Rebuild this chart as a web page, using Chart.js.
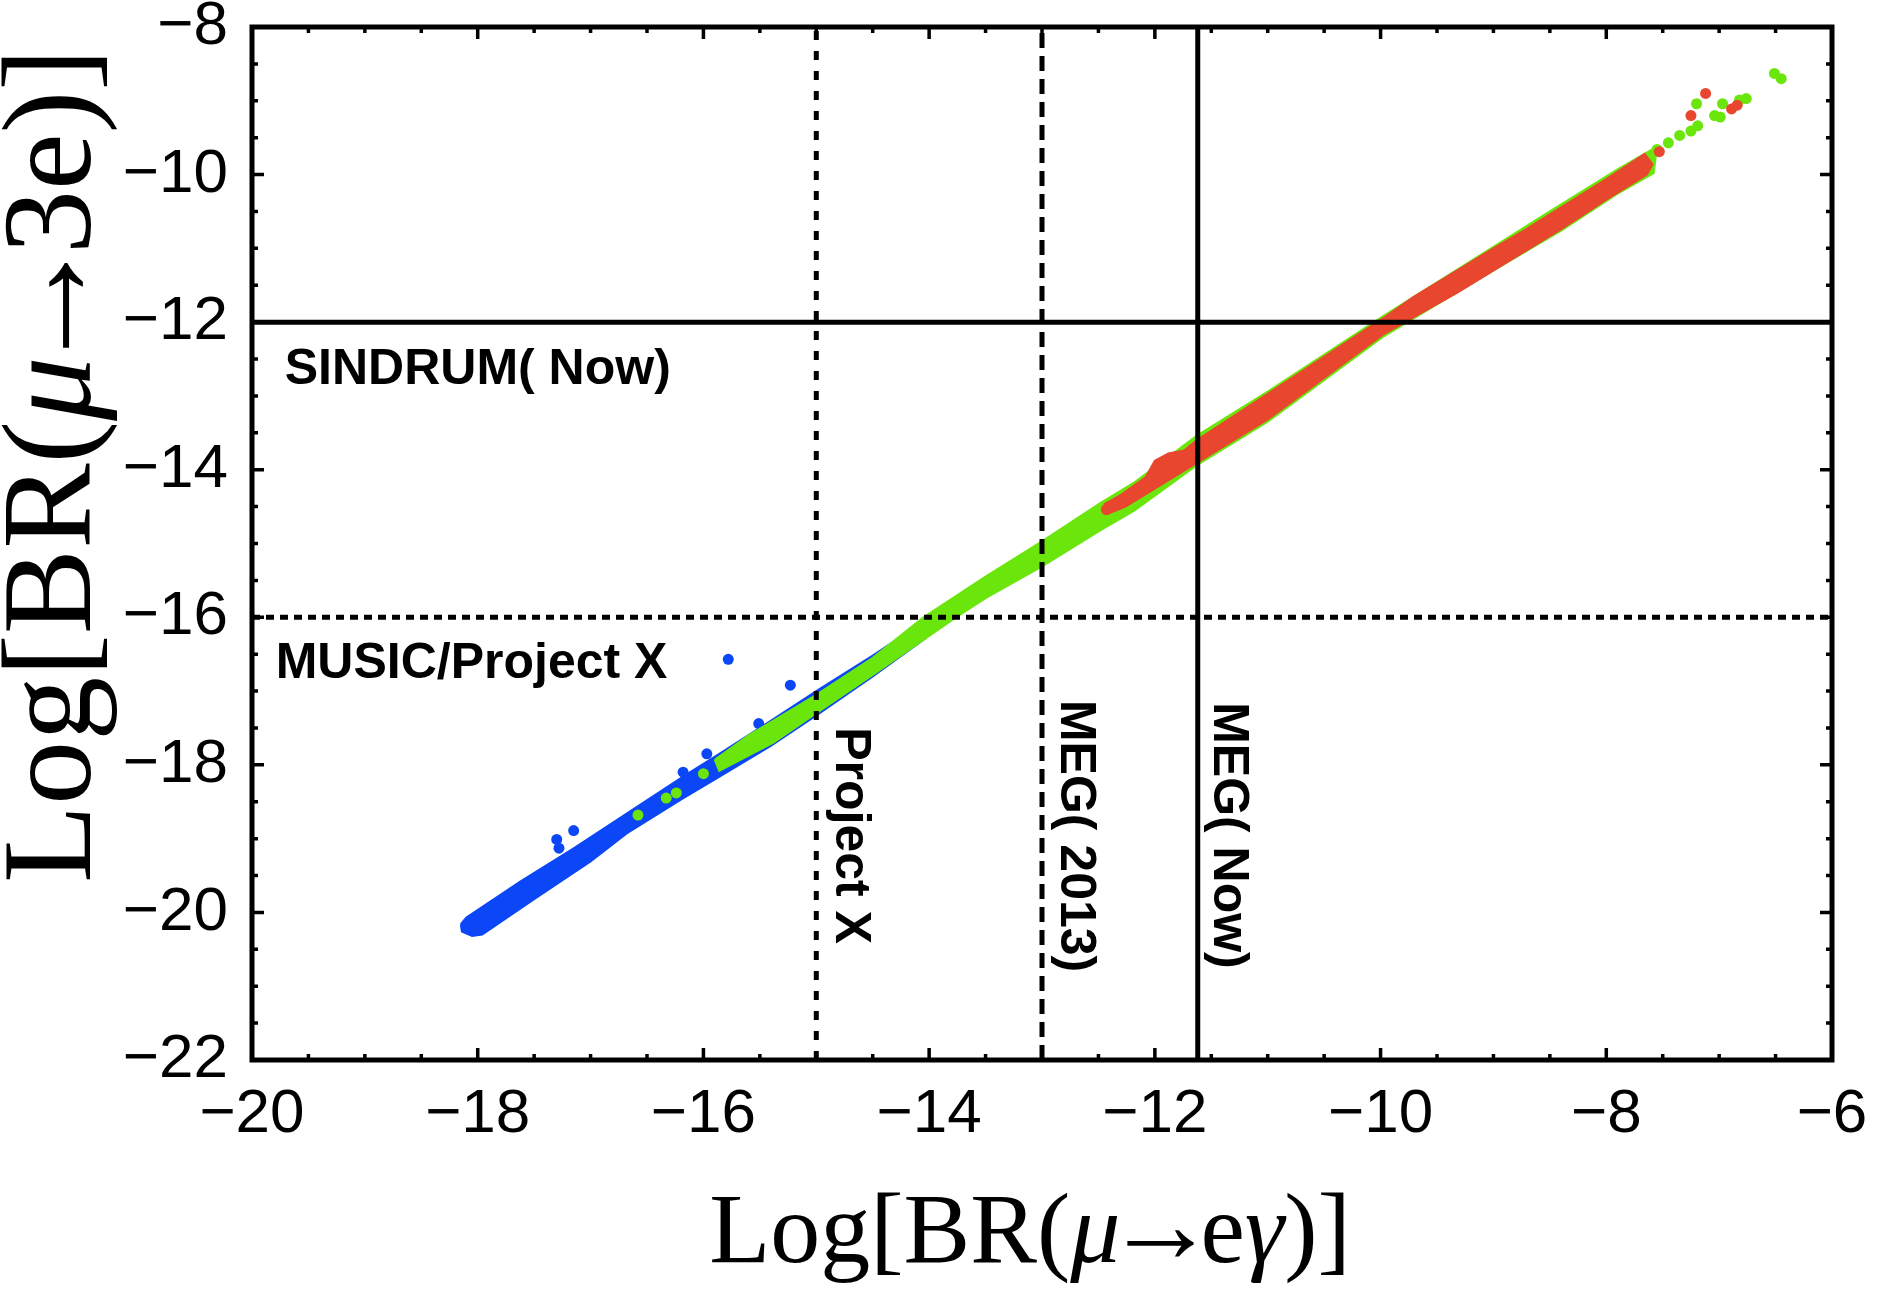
<!DOCTYPE html>
<html>
<head>
<meta charset="utf-8">
<script src="https://cdn.jsdelivr.net/npm/chart.js@4.4.1/dist/chart.umd.min.js"></script>
<style>
  html, body { margin: 0; padding: 0; background: #fff; }
  #wrap { width: 1884px; height: 1290px; }
</style>
</head>
<body>
<div id="wrap"><canvas id="brChart" width="1884" height="1290"></canvas></div>
<script>
// log10 of the branching ratios, tick labels on both axes
const xTicks = [-20, -18, -16, -14, -12, -10, -8, -6];
const yTicks = [-22, -20, -18, -16, -14, -12, -10, -8];

// experimental limits on mu -> e gamma (vertical) and mu -> 3e (horizontal)
const megNames = ['Project X', 'MEG( 2013)', 'MEG( Now)'];
const megLimits = [-15, -13, -11.62];
const threeENames = ['SINDRUM( Now)', 'MUSIC/Project X'];
const threeELimits = [-12, -16];

// dense scan regions, given as upper and lower edge of each band
const blueUpper = [[-18.15, -20.16], [-18.10, -20.07], [-17.62, -19.58], [-17.15, -19.13], [-16.65, -18.63],
  [-16.18, -18.16], [-15.88, -17.87], [-15.40, -17.40], [-15.00, -17.00], [-14.50, -16.52], [-14.02, -16.03]];
const blueLower = [[-18.14, -20.26], [-18.05, -20.32], [-17.96, -20.30], [-17.50, -19.82], [-17.00, -19.31],
  [-16.68, -18.93], [-16.20, -18.47], [-15.88, -18.18], [-15.40, -17.74], [-15.00, -17.33], [-14.50, -16.80],
  [-14.02, -16.27]];

const greenUpper = [[-15.90, -17.93], [-15.60, -17.60], [-15.38, -17.40], [-15.00, -17.05], [-14.50, -16.55],
  [-14.05, -16.00], [-13.50, -15.45], [-13.00, -14.97], [-12.48, -14.45], [-12.18, -14.17],
  [-11.63, -13.54], [-11.00, -12.94], [-9.98, -11.92], [-9.00, -10.98], [-8.50, -10.50], [-7.90, -9.93], [-7.55, -9.62]];
const greenLower = [[-15.86, -18.08], [-15.38, -17.70], [-15.00, -17.30], [-14.50, -16.78], [-13.76, -16.00],
  [-13.50, -15.74], [-13.00, -15.31], [-12.48, -14.82], [-12.18, -14.55], [-11.61, -13.92], [-11.00, -13.35],
  [-9.98, -12.20], [-9.00, -11.30], [-8.40, -10.76], [-7.90, -10.26], [-7.58, -9.98]];

const redUpper = [[-12.45, -14.47], [-12.30, -14.34], [-12.08, -14.10], [-12.00, -13.88], [-11.88, -13.78],
  [-11.74, -13.74], [-11.63, -13.60], [-11.00, -12.97], [-9.98, -11.95], [-9.71, -11.66], [-9.00, -11.00],
  [-8.73, -10.76], [-8.50, -10.54], [-8.00, -10.06], [-7.66, -9.72]];
const redLower = [[-12.42, -14.60], [-12.26, -14.50], [-11.61, -13.89], [-11.00, -13.32], [-9.98, -12.17],
  [-9.32, -11.60], [-8.40, -10.74], [-8.00, -10.34], [-7.64, -10.00], [-7.59, -9.86]];

// isolated scan points off the bands
const blueDots = [[-17.30, -19.01], [-17.15, -18.89], [-17.28, -19.13], [-16.18, -18.10], [-15.97, -17.85],
  [-15.51, -17.44], [-15.78, -16.57], [-15.23, -16.92]];
const greenDots = [[-16.58, -18.68], [-16.33, -18.45], [-16.24, -18.38], [-16.00, -18.12], [-7.55, -9.66],
  [-7.45, -9.57], [-7.35, -9.47], [-7.25, -9.41], [-7.19, -9.34], [-7.20, -9.04], [-7.04, -9.20], [-6.99, -9.22],
  [-6.97, -9.04], [-6.82, -8.99], [-6.76, -8.97], [-6.51, -8.63], [-6.45, -8.70]];
const redDots = [[-12.43, -14.54], [-7.53, -9.69], [-7.25, -9.20], [-7.12, -8.90], [-6.89, -9.11], [-6.84, -9.06]];

const BLUE = '#0b47f6';
const GREEN = '#6be60d';
const RED = '#e8462e';
const SANS = '"Liberation Sans", Arial, sans-serif';
const SERIF = '"Liberation Serif", "Times New Roman", serif';

const xMin = xTicks[0], xMax = xTicks[xTicks.length - 1];
const yMin = yTicks[0], yMax = yTicks[yTicks.length - 1];

const toPts = pts => pts.map(([x, y]) => ({ x, y }));
// closed outline: along the upper edge, back along the lower one
const outline = (upper, lower) => toPts(upper.concat(lower.slice().reverse(), [upper[0]]));
const fmt = v => (v < 0 ? '\u2212' : '') + Math.abs(v);

const bandSet = (upper, lower, color, order) => ({
  type: 'line', data: outline(upper, lower), fill: 'shape', backgroundColor: color,
  borderColor: color, borderWidth: 2, pointRadius: 0, tension: 0, order
});
const dotSet = (pts, color, order) => ({
  type: 'scatter', data: toPts(pts), backgroundColor: color, pointRadius: 5.5,
  pointBorderWidth: 0, order
});

const megDash = [[9, 11], [15, 8], []];
const threeEDash = [[], [8, 6]];
const limitSets = [];
megLimits.forEach((v, i) => limitSets.push({
  type: 'line', data: [{ x: v, y: yMin }, { x: v, y: yMax }], borderColor: '#000', borderWidth: 5,
  borderDash: megDash[i], pointRadius: 0, fill: false, order: 0
}));
threeELimits.forEach((v, i) => limitSets.push({
  type: 'line', data: [{ x: xMin, y: v }, { x: xMax, y: v }], borderColor: '#000', borderWidth: 5,
  borderDash: threeEDash[i], pointRadius: 0, fill: false, order: 0
}));

const datasets = [
  ...limitSets,
  dotSet(redDots, RED, 1),
  bandSet(redUpper, redLower, RED, 2),
  dotSet(greenDots, GREEN, 3),
  bandSet(greenUpper, greenLower, GREEN, 4),
  dotSet(blueDots, BLUE, 5),
  bandSet(blueUpper, blueLower, BLUE, 6)
];

// title pieces: [text, style, size factor, side trim in em]
function drawTitle(ctx, runs, size, cx, cy, angle) {
  const fontOf = (style, k) => `${style} ${size * k}px ${SERIF}`;
  const advance = ([txt, style, k = 1, trim = 0]) => {
    ctx.font = fontOf(style, k);
    return ctx.measureText(txt).width - 2 * trim * size;
  };
  const total = runs.reduce((s, r) => s + advance(r), 0);
  ctx.save();
  ctx.translate(cx, cy);
  ctx.rotate(angle);
  ctx.textAlign = 'left';
  ctx.textBaseline = 'alphabetic';
  let pos = -total / 2;
  runs.forEach(r => {
    const w = advance(r);
    ctx.fillText(r[0], pos - (r[3] || 0) * size, 0);
    pos += w;
  });
  ctx.restore();
}

const framePlugin = {
  id: 'frame',
  afterDatasetsDraw(chart) {
    const { ctx, chartArea: a, scales: { x, y } } = chart;
    ctx.save();
    ctx.strokeStyle = '#000';
    ctx.fillStyle = '#000';

    // inward ticks on all four sides: major every 2, minor every 0.5
    ctx.lineWidth = 3.5;
    ctx.beginPath();
    for (let v = xMin; v <= xMax; v += 0.5) {
      const px = x.getPixelForValue(v);
      const len = v % 2 === 0 ? 12 : 6;
      ctx.moveTo(px, a.bottom); ctx.lineTo(px, a.bottom - len);
      ctx.moveTo(px, a.top); ctx.lineTo(px, a.top + len);
    }
    for (let v = yMin; v <= yMax; v += 0.5) {
      const py = y.getPixelForValue(v);
      const len = v % 2 === 0 ? 12 : 6;
      ctx.moveTo(a.left, py); ctx.lineTo(a.left + len, py);
      ctx.moveTo(a.right, py); ctx.lineTo(a.right - len, py);
    }
    ctx.stroke();

    ctx.lineWidth = 5;
    ctx.strokeRect(a.left, a.top, a.right - a.left, a.bottom - a.top);

    // limit labels
    ctx.font = `bold 50px ${SANS}`;
    ctx.textAlign = 'left';
    ctx.textBaseline = 'alphabetic';
    ctx.fillText(threeENames[0], x.getPixelForValue(-19.71), y.getPixelForValue(-12.84));
    ctx.fillText(threeENames[1], x.getPixelForValue(-19.79), y.getPixelForValue(-16.82));
    const megAnchors = [[-14.825, -17.49], [-12.83, -17.12], [-11.48, -17.15]];
    megAnchors.forEach(([vx, vy], i) => {
      ctx.save();
      ctx.translate(x.getPixelForValue(vx), y.getPixelForValue(vy));
      ctx.rotate(Math.PI / 2);
      ctx.fillText(megNames[i], 0, 0);
      ctx.restore();
    });

    // axis titles
    const arrow = ['\u2192', '', 1.12, 0.16];
    const xTitle = [['Log[BR(', ''], ['\u03bc', 'italic'], arrow, ['e', ''], ['\u03b3', 'italic'], [')]', '']];
    const yTitle = [['Log[BR(', ''], ['\u03bc', 'italic'], arrow, ['3e)]', '']];
    drawTitle(ctx, xTitle, 100, (a.left + a.right) / 2 - 12, chart.height - 28, 0);
    drawTitle(ctx, yTitle, 128, 90, (a.top + a.bottom) / 2 - 78, -Math.PI / 2);
    ctx.restore();
  }
};

// keep the plot frame fixed: no extra room for overhanging tick labels
const noPad = s => { s.paddingTop = 0; s.paddingBottom = 0; s.paddingLeft = 0; s.paddingRight = 0; };

new Chart(document.getElementById('brChart'), {
  type: 'scatter',
  data: { datasets },
  options: {
    responsive: false,
    animation: false,
    events: [],
    layout: { padding: { top: 27, right: 52, bottom: 0, left: 0 } },
    plugins: { legend: { display: false }, tooltip: { enabled: false } },
    scales: {
      x: {
        type: 'linear', min: xMin, max: xMax,
        afterBuildTicks: s => { s.ticks = xTicks.map(v => ({ value: v })); },
        afterFit: s => { s.height = 230; noPad(s); },
        grid: { display: false, drawTicks: false },
        border: { display: false },
        ticks: { color: '#000', padding: 30, maxRotation: 0, autoSkip: false, callback: fmt,
          font: { family: SANS, size: 62, lineHeight: 0.8 } }
      },
      y: {
        type: 'linear', min: yMin, max: yMax,
        afterBuildTicks: s => { s.ticks = yTicks.map(v => ({ value: v })); },
        afterFit: s => { s.width = 252; noPad(s); },
        grid: { display: false, drawTicks: false },
        border: { display: false },
        ticks: { color: '#000', padding: 24, autoSkip: false, callback: fmt,
          font: { family: SANS, size: 62, lineHeight: 0.8 } }
      }
    }
  },
  plugins: [framePlugin]
});
</script>
</body>
</html>
